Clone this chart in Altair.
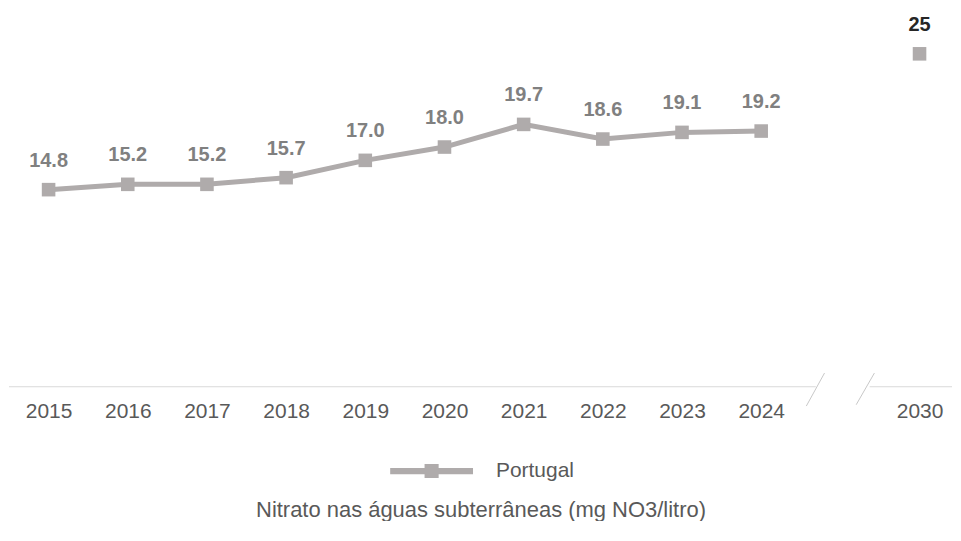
import altair as alt
import pandas as pd

years = ["2015", "2016", "2017", "2018", "2019", "2020", "2021", "2022", "2023", "2024", "2030"]
values = [14.8, 15.2, 15.2, 15.7, 17.0, 18.0, 19.7, 18.6, 19.1, 19.2, 25.0]
series_name = "Portugal"
subtitle = "Nitrato nas águas subterrâneas (mg NO3/litro)"

# slot index: one empty slot (axis break) before 2030
pos = [i if y != "2030" else i + 1 for i, y in enumerate(years)]
df = pd.DataFrame({"year": years, "pos": pos, "value": values,
                   "label": [f"{v:.1f}" if y != "2030" else f"{v:.0f}" for y, v in zip(years, values)],
                   "serie": series_name})
df_line = df[df["year"] != "2030"]

FONT = "Liberation Sans"
LINE_C = "#afabab"
XMAX = 11.41

xs = alt.Scale(domain=[-0.5, XMAX], nice=False, zero=False)
ys = alt.Scale(domain=[0, 28.4], nice=False)

xaxis = alt.Axis(values=pos, labelExpr="datum.value == 11 ? '2030' : toString(2015 + datum.value)",
                 ticks=False, domain=False, grid=False, labelFont=FONT, labelFontSize=21,
                 labelColor="#595959", labelPadding=14, title=subtitle, titleFont=FONT,
                 titleFontSize=22, titleFontWeight="normal", titleColor="#595959", titlePadding=78)

base = alt.Chart(df)

baseline = pd.DataFrame({"x": [-0.5, 10.37], "x2": [9.69, XMAX], "y": [0, 0]})
rules = alt.Chart(baseline).mark_rule(color="#d9d9d9", strokeWidth=1).encode(
    x=alt.X("x:Q", scale=xs, axis=xaxis), x2="x2:Q",
    y=alt.Y("y:Q", scale=ys, axis=None))

slashes = pd.DataFrame({"x": [9.57, 10.20], "x2": [9.80, 10.43], "y": [-1.45, -1.35], "y2": [1.03, 1.03]})
brk = alt.Chart(slashes).mark_rule(color="#c8c8c8", strokeWidth=1).encode(
    x=alt.X("x:Q", scale=xs), x2="x2:Q", y=alt.Y("y:Q", scale=ys), y2="y2:Q")

legend_path = "M-1,-0.075H1V0.075H-1Z M-0.17,-0.17H0.17V0.17H-0.17Z"
line = alt.Chart(df_line).mark_line(strokeWidth=5).encode(
    x=alt.X("pos:Q", scale=xs),
    y=alt.Y("value:Q", scale=ys),
    color=alt.Color("serie:N", scale=alt.Scale(domain=[series_name], range=[LINE_C]),
                    legend=alt.Legend(title=None, orient="none", legendX=382, legendY=422,
                                      symbolType=legend_path, symbolSize=6889,
                                      symbolStrokeWidth=0, symbolFillColor=LINE_C,
                                      labelFont=FONT, labelFontSize=21, labelColor="#595959",
                                      labelOffset=23)))

pts = base.mark_point(shape="square", filled=True, size=185, opacity=1, color=LINE_C).encode(
    x=alt.X("pos:Q", scale=xs), y=alt.Y("value:Q", scale=ys))

txt = base.mark_text(dy=-29, font=FONT, fontSize=20, fontWeight="bold").encode(
    x=alt.X("pos:Q", scale=xs), y=alt.Y("value:Q", scale=ys), text="label:N",
    color=alt.condition(alt.datum.year == "2030", alt.value("#262626"), alt.value("#808080")))

chart = alt.layer(rules, brk, line, pts, txt).properties(
    width=945, height=379, padding=0
).configure_view(stroke=None)

chart.save("out.html", embed_options={"renderer": "svg", "actions": False})
